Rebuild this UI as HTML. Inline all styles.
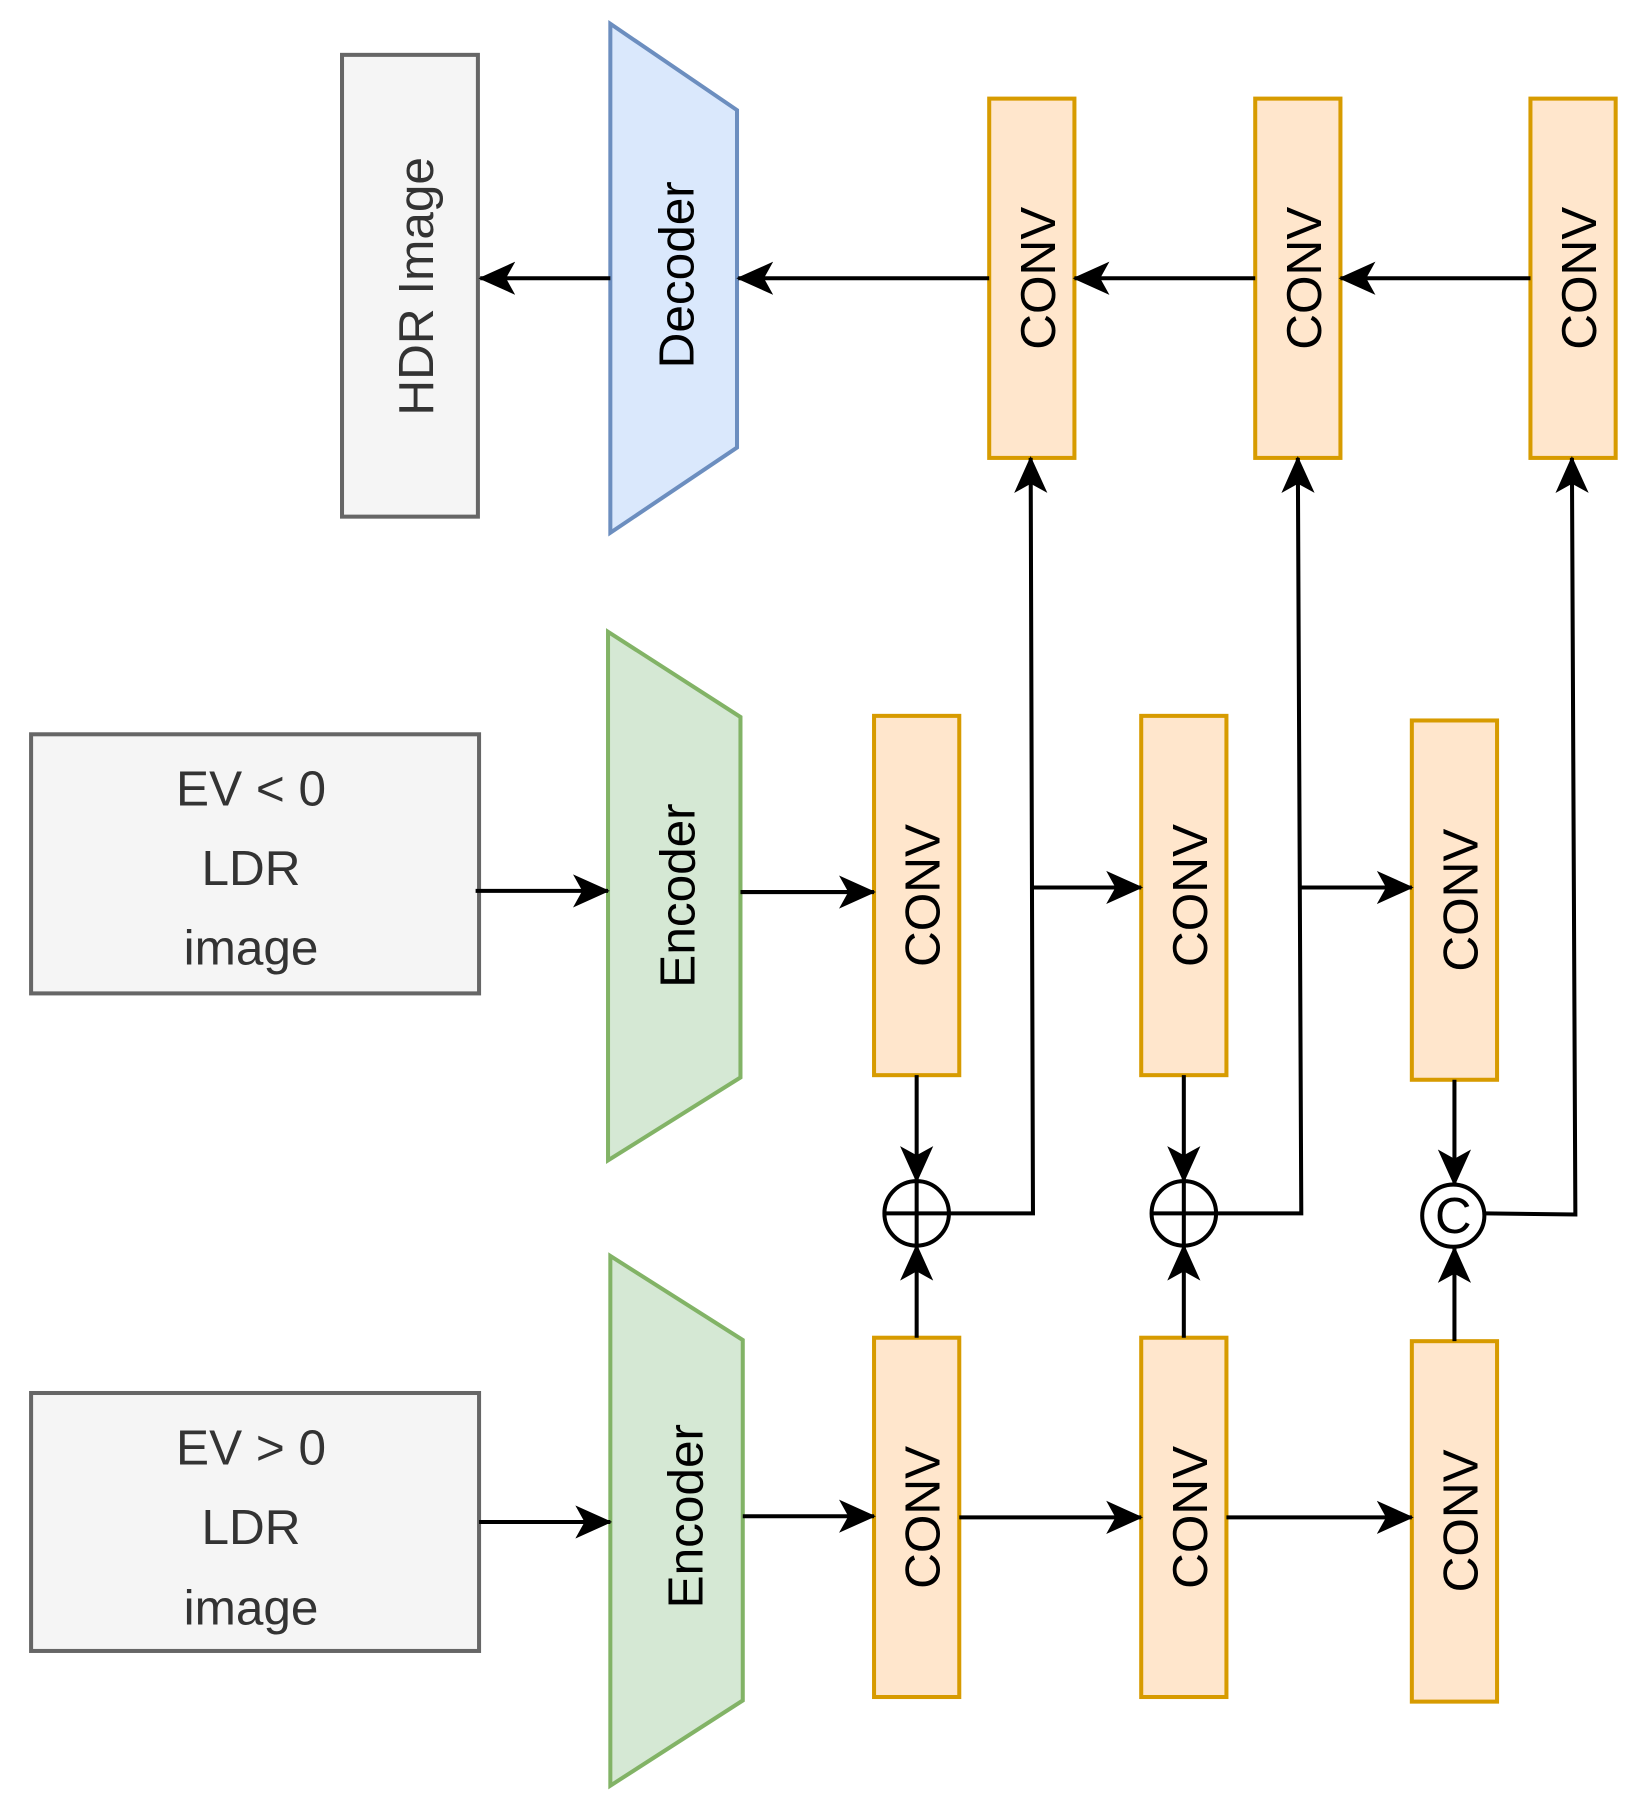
<!DOCTYPE html>
<html><head><meta charset="utf-8"><style>html,body{margin:0;padding:0;background:#fff}svg{display:block}</style></head>
<body>
<svg width="1641" height="1806" viewBox="0 0 1425 1567" xmlns="http://www.w3.org/2000/svg" font-family="'Liberation Sans', Arial, sans-serif">
<defs>
<marker id="m" viewBox="0 0 20 20" refX="19" refY="10" markerWidth="32" markerHeight="32" markerUnits="userSpaceOnUse" orient="auto">
<path d="M0,1 L20,10 L0,19 L5,10 Z" fill="#000"/>
</marker>
</defs>
<g stroke-width="3.5">
<rect x="297" y="47" width="118" height="401" fill="#f5f5f5" stroke="#666"/>
<polygon points="530,20 640,95 640,388 530,462" fill="#dae8fc" stroke="#6c8ebf"/>
<rect x="859" y="85" width="74" height="312" fill="#ffe6cc" stroke="#d79b00"/>
<rect x="1090" y="85" width="74" height="312" fill="#ffe6cc" stroke="#d79b00"/>
<rect x="1329" y="85" width="74" height="312" fill="#ffe6cc" stroke="#d79b00"/>
<rect x="27" y="637" width="389" height="225" fill="#f5f5f5" stroke="#666"/>
<polygon points="528,548 643,622 643,935 528,1007" fill="#d5e8d4" stroke="#82b366"/>
<rect x="759" y="621" width="74" height="312" fill="#ffe6cc" stroke="#d79b00"/>
<rect x="991" y="621" width="74" height="312" fill="#ffe6cc" stroke="#d79b00"/>
<rect x="1226" y="625" width="74" height="312" fill="#ffe6cc" stroke="#d79b00"/>
<rect x="27" y="1209" width="389" height="224" fill="#f5f5f5" stroke="#666"/>
<polygon points="530,1090 645,1163 645,1476 530,1550" fill="#d5e8d4" stroke="#82b366"/>
<rect x="759" y="1161" width="74" height="312" fill="#ffe6cc" stroke="#d79b00"/>
<rect x="991" y="1161" width="74" height="312" fill="#ffe6cc" stroke="#d79b00"/>
<rect x="1226" y="1164" width="74" height="313" fill="#ffe6cc" stroke="#d79b00"/>
</g>
<g stroke="#000" stroke-width="3.5" fill="none" marker-end="url(#m)">
<line x1="1329" y1="241" x2="1164" y2="241"/>
<line x1="1090" y1="241" x2="933" y2="241"/>
<line x1="859" y1="241" x2="641" y2="241"/>
<line x1="530" y1="241" x2="417" y2="241"/>
<line x1="413" y1="773" x2="528" y2="773"/>
<line x1="643" y1="774" x2="759" y2="774"/>
<line x1="897" y1="770" x2="991" y2="770"/>
<line x1="1130" y1="770" x2="1226" y2="770"/>
<line x1="796" y1="933" x2="796" y2="1025"/>
<line x1="1028" y1="933" x2="1028" y2="1025"/>
<line x1="1263" y1="937" x2="1263" y2="1028"/>
<polyline points="824,1053 897,1053 895,397"/>
<polyline points="1056,1053 1130,1053 1127,397"/>
<polyline points="1290,1053 1368,1054 1365,397"/>
<line x1="416" y1="1321" x2="530" y2="1321"/>
<line x1="645" y1="1316" x2="759" y2="1316"/>
<line x1="833" y1="1317" x2="991" y2="1317"/>
<line x1="1065" y1="1317" x2="1226" y2="1317"/>
<line x1="796" y1="1161" x2="796" y2="1081"/>
<line x1="1028" y1="1161" x2="1028" y2="1081"/>
<line x1="1263" y1="1164" x2="1263" y2="1083"/>
</g>
<g stroke="#000" stroke-width="3.5" fill="#fff">
<circle cx="796" cy="1053" r="28"/>
<circle cx="1028" cy="1053" r="28"/>
<circle cx="1262" cy="1055" r="27"/>
<path d="M768,1053H824M796,1025V1081M1000,1053H1056M1028,1025V1081" fill="none"/>
</g>
<text x="1262" y="1070" font-size="44" text-anchor="middle" fill="#000">C</text>
<g font-size="43" text-anchor="middle" fill="#000">
<text transform="translate(376,248) rotate(-90)" fill="#333">HDR Image</text>
<text transform="translate(602,238) rotate(-90)">Decoder</text>
<text transform="translate(916,241) rotate(-90)">CONV</text>
<text transform="translate(1147,241) rotate(-90)">CONV</text>
<text transform="translate(1386,241) rotate(-90)">CONV</text>
<text transform="translate(603,777) rotate(-90)">Encoder</text>
<text transform="translate(816,777) rotate(-90)">CONV</text>
<text transform="translate(1048,777) rotate(-90)">CONV</text>
<text transform="translate(1283,781) rotate(-90)">CONV</text>
<text transform="translate(610,1316) rotate(-90)">Encoder</text>
<text transform="translate(816,1317) rotate(-90)">CONV</text>
<text transform="translate(1048,1317) rotate(-90)">CONV</text>
<text transform="translate(1283,1320) rotate(-90)">CONV</text>
</g>
<g font-size="43" text-anchor="middle" fill="#333">
<text x="218" y="699">EV &lt; 0</text>
<text x="218" y="768">LDR</text>
<text x="218" y="837">image</text>
<text x="218" y="1271">EV &gt; 0</text>
<text x="218" y="1340">LDR</text>
<text x="218" y="1410">image</text>
</g>
</svg>
</body></html>
